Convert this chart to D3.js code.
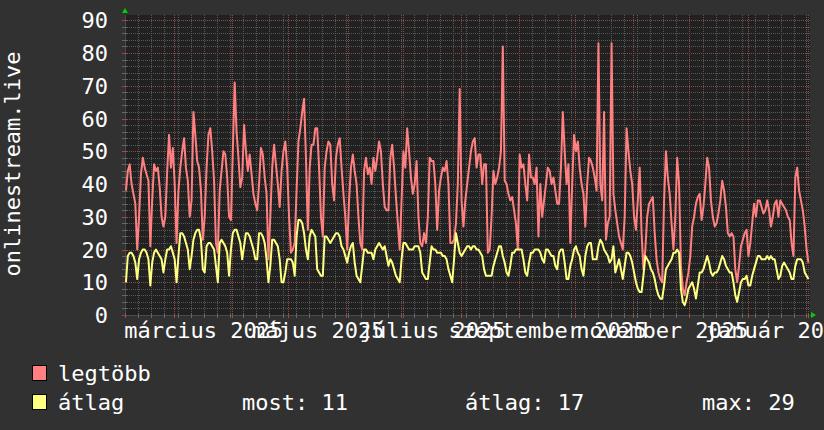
<!DOCTYPE html>
<html><head><meta charset="utf-8">
<script src="https://cdn.jsdelivr.net/npm/d3@7"></script>
<style>html,body{margin:0;padding:0;background:#313131;} svg{display:block;}</style>
</head><body><svg id="c" width="824" height="430"></svg>
<script>
// ---- data (daily values, starting Monday 2025-02-03) ----
const startDate = "2025-02-03";
const maxValues = [
38,44,46,40,37,34,20, 30,43,48,45,43,41,21, 35,46,44,45,39,30,27, 30,44,55,45,51,40,22,
38,45,50,54,45,41,30, 35,62,55,47,45,38,23, 30,45,55,57,50,41,22, 19,38,44,50,49,42,30,
29,50,71,56,48,39,42, 58,50,44,49,43,37,34, 32,40,51,49,42,37,17, 30,45,52,46,40,33,44,
50,53,45,30,19,20,22, 38,53,57,62,66,48,26, 45,52,52,57,57,45,30, 24,45,50,53,52,40,35,
48,52,54,45,37,30,20, 35,45,49,44,40,30,22, 20,44,48,43,45,40,48, 44,48,53,50,40,33,32,
32,48,52,45,36,28,20, 35,50,45,57,50,42,37, 40,47,30,22,21,25,22, 30,48,47,47,40,26,38,
42,45,44,47,40,22,22, 23,28,40,69,35,27,35, 40,45,50,53,54,45,49, 49,40,46,46,19,20,30,
44,40,42,45,50,82,41, 40,37,35,36,32,28,20, 49,45,46,40,35,49,42, 42,40,45,24,40,30,35,
40,45,44,40,42,38,34, 34,45,62,50,40,46,22, 40,55,50,53,45,40,37, 27,40,48,47,45,42,38,
83,40,35,62,23,28,30, 83,37,32,28,24,22,20, 30,57,50,44,40,30,26, 35,45,25,14,20,30,34,
35,36,25,17,13,11,10, 35,50,42,37,28,20,30, 48,40,15,8,6,10,13, 18,27,30,34,36,37,29,
33,40,48,45,35,30,27, 28,31,35,41,38,33,25, 24,25,24,14,10,15,21, 23,25,26,18,22,28,34,
30,35,35,33,31,32,35, 32,27,30,34,35,30,35, 34,33,32,30,29,22,18, 42,45,38,35,32,27,20,
16];
const avgValues = [
10,18,19,19,18,16,11, 17,19,20,20,19,17,9, 16,19,20,19,18,17,13, 17,20,20,21,19,17,10,
18,25,25,24,22,20,14, 18,23,25,26,26,23,14, 13,21,22,22,21,20,15, 10,22,23,22,21,19,12,
20,25,26,26,24,22,17, 21,25,25,24,22,20,17, 17,25,25,24,22,17,10, 15,23,23,22,21,17,10,
10,13,17,17,17,16,12, 24,29,29,28,25,20,17, 24,26,25,24,14,13,12, 12,24,24,23,22,23,24,
25,25,24,21,20,18,16, 19,21,22,16,12,11,10, 15,20,20,19,19,19,17, 20,21,22,21,20,21,18,
15,17,16,14,12,11,10, 17,22,22,21,20,20,20, 21,21,21,19,13,12,11, 11,16,21,20,20,19,19,
19,18,18,17,14,12,10, 17,25,22,19,18,19,20, 21,21,20,21,21,20,20, 19,18,14,12,12,12,12,
15,17,19,21,21,18,16, 13,12,15,19,19,20,20, 20,20,17,13,12,16,19, 19,20,20,20,19,17,16,
20,20,19,18,18,15,14, 19,20,20,16,11,11,15, 17,20,21,19,18,14,12, 18,21,22,22,17,17,17,
21,23,22,20,19,18,16, 17,21,13,15,17,14,11, 15,19,19,18,16,13,10, 8,7,7,12,18,17,16,
14,13,11,8,6,5,5, 9,14,15,16,17,19,19, 20,19,8,4,3,5,8, 9,10,8,5,9,13,13,
14,16,18,16,13,12,13, 13,14,16,18,17,15,14, 13,13,10,6,4,7,10, 11,11,12,9,9,12,14,
16,18,18,17,17,17,18, 17,18,17,17,14,11,12, 15,16,15,14,13,11,11, 15,17,17,17,16,13,12,
11];
const yTickValues = [0,10,20,30,40,50,60,70,80,90];
const monthLabels = ["március 2025","május 2025","július 2025","szeptember 2025","november 2025","január 2026"];
const monthLabelStarts = ["2025-03-01","2025-05-01","2025-07-01","2025-09-01","2025-11-01","2026-01-01"];
const seriesNames = ["legtöbb","átlag"];
const seriesColors = ["#ff8080","#ffff80"];
const statLabels = ["most: 11","átlag: 17","max: 29"];
const yTitle = "onlinestream.live";

// ---- layout ----
const W = 824, H = 430;
const L = 125, R = 810, T = 15, B = 315;
const FONT = "DejaVu Sans Mono";
const parse = d3.timeParse("%Y-%m-%d");
const start = parse(startDate);
const nDays = maxValues.length;
const end = d3.timeDay.offset(start, nDays);

const x = d3.scaleTime().domain([start, end]).range([L, L + nDays * 1.875]);
const y = d3.scaleLinear().domain([0, 90]).range([B, 20.25]);

const svg = d3.select("#c");
svg.append("rect").attr("width", W).attr("height", H).attr("fill", "#313131");
svg.append("rect").attr("x", L).attr("y", T).attr("width", R - L).attr("height", B - T).attr("fill", "#212121");

const g = svg.append("g");
const yMinor = y.ticks(45).filter(v => v % 10 !== 0 && y(v) >= T);
g.selectAll(".hmin").data(yMinor).join("line")
  .attr("x1", L).attr("x2", R).attr("y1", d => Math.round(y(d)) + 0.5).attr("y2", d => Math.round(y(d)) + 0.5)
  .attr("stroke", "#585858").attr("stroke-dasharray", "1,1");
const weeks = d3.timeMonday.range(start, end);
g.selectAll(".vmin").data(weeks).join("line")
  .attr("y1", T).attr("y2", B).attr("x1", d => Math.round(x(d)) + 0.5).attr("x2", d => Math.round(x(d)) + 0.5)
  .attr("stroke", "#585858").attr("stroke-dasharray", "1,1");
g.selectAll(".hmaj").data(yTickValues.filter(v => v > 0)).join("line")
  .attr("x1", L).attr("x2", R).attr("y1", d => Math.round(y(d)) + 0.5).attr("y2", d => Math.round(y(d)) + 0.5)
  .attr("stroke", "#8a4a4a").attr("stroke-dasharray", "1,1");
const months = d3.timeMonth.range(d3.timeDay.offset(start, 1), end);
g.selectAll(".vmaj").data(months).join("line")
  .attr("y1", T).attr("y2", B).attr("x1", d => Math.round(x(d)) + 0.5).attr("x2", d => Math.round(x(d)) + 0.5)
  .attr("stroke", "#8a4a4a").attr("stroke-dasharray", "1,1");

g.append("line").attr("x1", L - 2).attr("x2", R + 2).attr("y1", B + 0.5).attr("y2", B + 0.5).attr("stroke", "#4a4a4a");
g.append("line").attr("x1", L + 0.5).attr("x2", L + 0.5).attr("y1", T).attr("y2", B + 2).attr("stroke", "#4a4a4a");
g.selectAll(".xt").data(weeks).join("line")
  .attr("y1", B - 2).attr("y2", B + 3).attr("x1", d => Math.round(x(d)) + 0.5).attr("x2", d => Math.round(x(d)) + 0.5)
  .attr("stroke", "#666");
g.selectAll(".xT").data(months).join("line")
  .attr("y1", B - 2).attr("y2", B + 3).attr("x1", d => Math.round(x(d)) + 0.5).attr("x2", d => Math.round(x(d)) + 0.5)
  .attr("stroke", "#b04040");
g.selectAll(".yt").data(y.ticks(45).filter(v => y(v) >= T)).join("line")
  .attr("x1", L - 3).attr("x2", L + 2).attr("y1", d => Math.round(y(d)) + 0.5).attr("y2", d => Math.round(y(d)) + 0.5)
  .attr("stroke", d => d % 10 === 0 ? "#b04040" : "#666");

// lines (each daily value placed at mid-day)
function series(vals) {
  return vals.map((v, i) => ({ t: d3.timeHour.offset(d3.timeDay.offset(start, i), 12), v }));
}
const line = d3.line().x(d => x(d.t)).y(d => y(d.v)).curve(d3.curveLinear);
[maxValues, avgValues].forEach((vals, k) => {
  svg.append("path").attr("d", line(series(vals))).attr("fill", "none")
    .attr("stroke", seriesColors[k]).attr("stroke-width", 2).attr("stroke-linejoin", "round");
});

// arrows
svg.append("polygon").attr("points", [[L - 3, T - 2], [L + 3, T - 2], [L, T - 7]].join(" ")).attr("fill", "#00d000");
svg.append("polygon").attr("points", [[R + 1, B - 3], [R + 1, B + 3], [R + 6, B]].join(" ")).attr("fill", "#00d000");

const txt = (sel) => sel.attr("fill", "#ffffff").attr("font-family", FONT).attr("font-size", 22);
svg.selectAll(".yl").data(yTickValues).join("text").call(txt)
  .attr("x", 108).attr("y", d => y(d) + 8).attr("text-anchor", "end").text(d => d);
svg.selectAll(".xl").data(monthLabels).join("text").call(txt)
  .attr("x", (d, i) => { const s = parse(monthLabelStarts[i]); return (x(s) + x(d3.timeMonth.offset(s, 1))) / 2 + 1; })
  .attr("y", 338).attr("text-anchor", "middle").text(d => d);
svg.append("text").call(txt).attr("transform", "translate(20,164) rotate(-90)").attr("text-anchor", "middle").text(yTitle);

seriesNames.forEach((n, i) => {
  const yy = 365 + i * 29;
  svg.append("rect").attr("x", 32.5).attr("y", yy + 0.5).attr("width", 14).attr("height", 15)
    .attr("fill", seriesColors[i]).attr("stroke", "#000");
  svg.append("text").call(txt).attr("x", 58).attr("y", yy + 16).text(n);
});
const statX = [242, 465, 702];
statLabels.forEach((s, i) => {
  svg.append("text").call(txt).attr("x", statX[i]).attr("y", 365 + 29 + 16).text(s);
});
</script>
</body></html>
